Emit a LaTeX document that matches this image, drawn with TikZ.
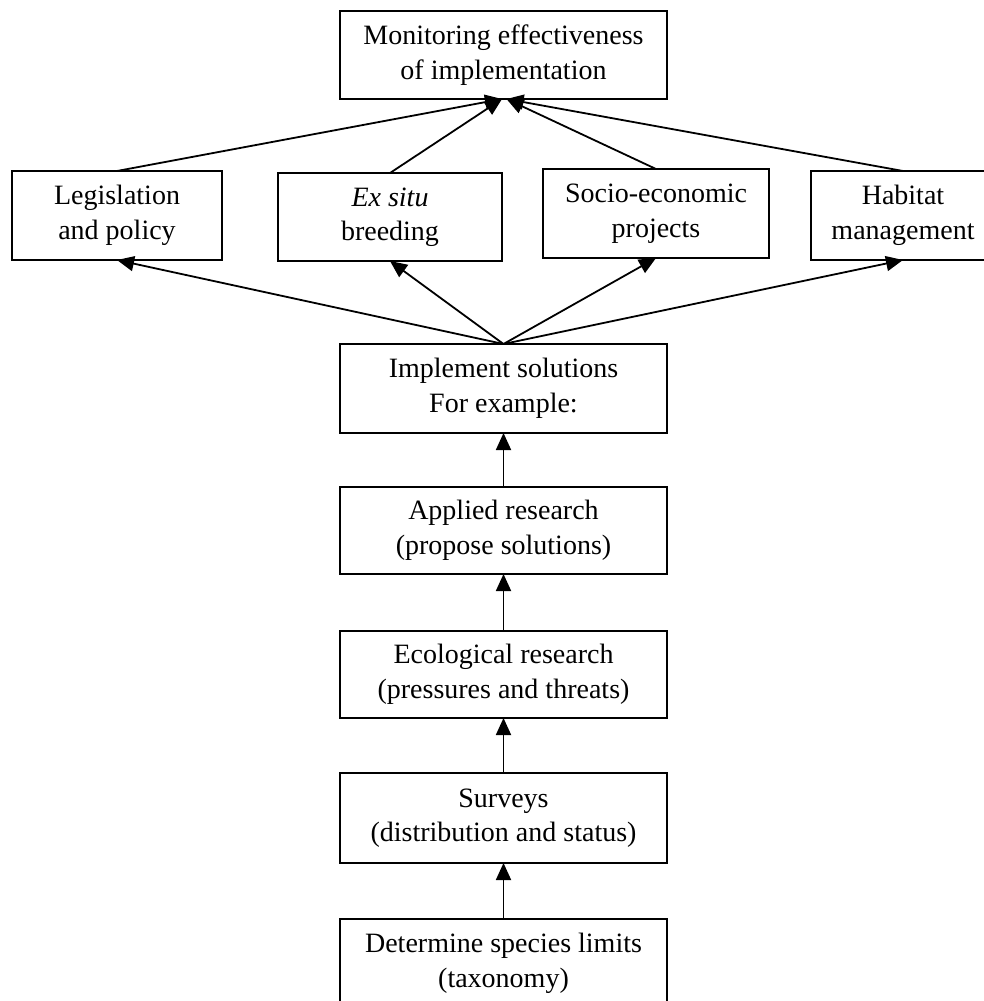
\documentclass[tikz,border=0pt]{standalone}
\usepackage{fontspec}
\setmainfont{Liberation Serif}
\usetikzlibrary{arrows.meta,calc}
\tikzset{
  box/.style={draw, line width=1.8pt, rectangle, inner sep=0pt, outer sep=0pt, align=center,
    font=\fontsize{28}{34.5}\selectfont},
  arr/.style={line width=1.8pt, -{Triangle[length=17pt,width=15pt]}}
}
\begin{document}
\begin{tikzpicture}[x=1pt,y=1pt]
\useasboundingbox (0,0) rectangle (983,-1001);
\node[box, minimum width=327, minimum height=88] (mon) at (503.5,-55) {Monitoring effectiveness\\of implementation};
\node[box, minimum width=210, minimum height=89] (leg) at (117,-215.5) {Legislation\\and policy};
\node[box, minimum width=224, minimum height=88] (exs) at (390,-217) {\textit{Ex situ}\\breeding};
\node[box, minimum width=226, minimum height=89] (soc) at (656,-213.5) {Socio-economic\\projects};
\node[box, minimum width=184, minimum height=89] (hab) at (903,-215.5) {Habitat\\management};
\node[box, minimum width=327, minimum height=89] (imp) at (503.5,-388.5) {Implement solutions\\For example:};
\node[box, minimum width=327, minimum height=87] (app) at (503.5,-530.5) {Applied research\\(propose solutions)};
\node[box, minimum width=327, minimum height=87] (eco) at (503.5,-674.5) {Ecological research\\(pressures and threats)};
\node[box, minimum width=327, minimum height=90] (sur) at (503.5,-818) {Surveys\\(distribution and status)};
\node[box, minimum width=327, minimum height=89] (det) at (503.5,-963.5) {Determine species limits\\(taxonomy)};
\coordinate (mL) at ($(mon.south)+(-1.5,0)$);
\coordinate (mR) at ($(mon.south)+(3,0)$);
\draw[arr] (det.north) -- (sur.south);
\draw[arr] (sur.north) -- (eco.south);
\draw[arr] (eco.north) -- (app.south);
\draw[arr] (app.north) -- (imp.south);
\draw[arr] (imp.north) -- (leg.south);
\draw[arr] (imp.north) -- (exs.south);
\draw[arr] (imp.north) -- (soc.south);
\draw[arr] (imp.north) -- (hab.south);
\draw[arr] (leg.north) -- (mL);
\draw[arr] (exs.north) -- (mL);
\draw[arr] (soc.north) -- (mR);
\draw[arr] (hab.north) -- (mR);
\end{tikzpicture}
\end{document}
